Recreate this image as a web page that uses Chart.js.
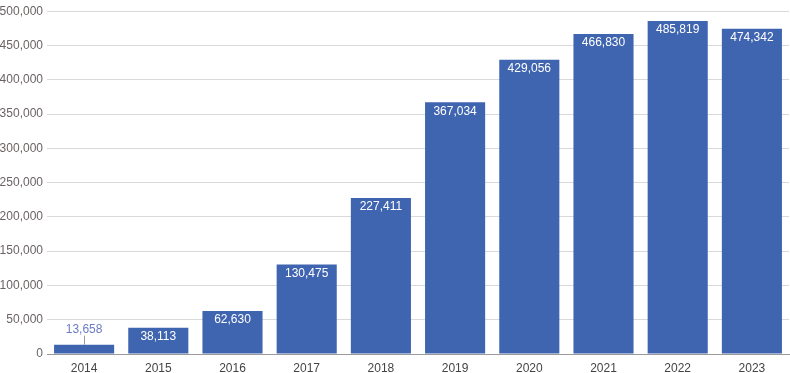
<!DOCTYPE html>
<html>
<head>
<meta charset="utf-8">
<script src="https://cdn.jsdelivr.net/npm/chart.js@4"></script>
<style>
html,body{margin:0;padding:0;background:#fff;}
#wrap{width:790px;height:373px;position:relative;}
</style>
</head>
<body>
<div id="wrap"><canvas id="c" width="790" height="373"></canvas></div>
<script>
const categories = ['2014','2015','2016','2017','2018','2019','2020','2021','2022','2023'];
const values = [13658, 38113, 62630, 130475, 227411, 367034, 429056, 466830, 485819, 474342];
const yTicks = [0, 50000, 100000, 150000, 200000, 250000, 300000, 350000, 400000, 450000, 500000];

const fmt = v => v.toLocaleString('en-US');
const FONT = '"Liberation Sans", Arial, sans-serif';

const labelPlugin = {
  id: 'barLabels',
  afterDatasetsDraw(chart) {
    const ctx = chart.ctx;
    const meta = chart.getDatasetMeta(0);
    ctx.save();
    ctx.font = '12px ' + FONT;
    ctx.textAlign = 'center';
    ctx.textBaseline = 'middle';
    meta.data.forEach((bar, i) => {
      const v = values[i];
      const h = bar.base - bar.y;
      if (h > 24) {
        ctx.fillStyle = '#ffffff';
        ctx.fillText(fmt(v), bar.x, bar.y + 9);
      } else {
        ctx.strokeStyle = '#9a9a9a';
        ctx.lineWidth = 1;
        ctx.beginPath();
        ctx.moveTo(Math.round(bar.x) + 0.5, bar.y);
        ctx.lineTo(Math.round(bar.x) + 0.5, bar.y - 9);
        ctx.stroke();
        ctx.fillStyle = '#6a7cc6';
        ctx.fillText(fmt(v), bar.x, bar.y - 15);
      }
    });
    ctx.restore();
  }
};

new Chart(document.getElementById('c'), {
  type: 'bar',
  data: {
    labels: categories,
    datasets: [{
      data: values,
      backgroundColor: '#4065b0',
      borderWidth: 0,
      categoryPercentage: 0.81,
      barPercentage: 1.0
    }]
  },
  options: {
    responsive: false,
    animation: false,
    devicePixelRatio: 1,
    layout: { padding: { top: 5, right: 1, left: 0, bottom: 0 } },
    plugins: { legend: { display: false }, tooltip: { enabled: false } },
    scales: {
      x: {
        grid: { display: false, drawTicks: false },
        border: { display: true, color: '#9a9a9a', width: 1 },
        ticks: { color: '#444', font: { family: FONT, size: 12 }, padding: 7 },
        afterFit(s) { s.height = 19; }
      },
      y: {
        min: 0,
        max: 500000,
        afterBuildTicks(s) {
          const t = [];
          for (let v = 0; v <= 500000; v += 25000) t.push({ value: v });
          s.ticks = t;
        },
        grid: {
          drawTicks: false,
          color: c => (yTicks.includes(c.tick.value) ? '#d9d9d9' : '#f0f0f0'),
          lineWidth: 1
        },
        border: { display: false },
        ticks: {
          color: '#6b6363',
          font: { family: FONT, size: 12 },
          padding: 4,
          callback: v => (yTicks.includes(v) ? fmt(v) : '')
        },
        afterFit(s) { s.width = 47; }
      }
    }
  },
  plugins: [labelPlugin]
});
</script>
</body>
</html>
